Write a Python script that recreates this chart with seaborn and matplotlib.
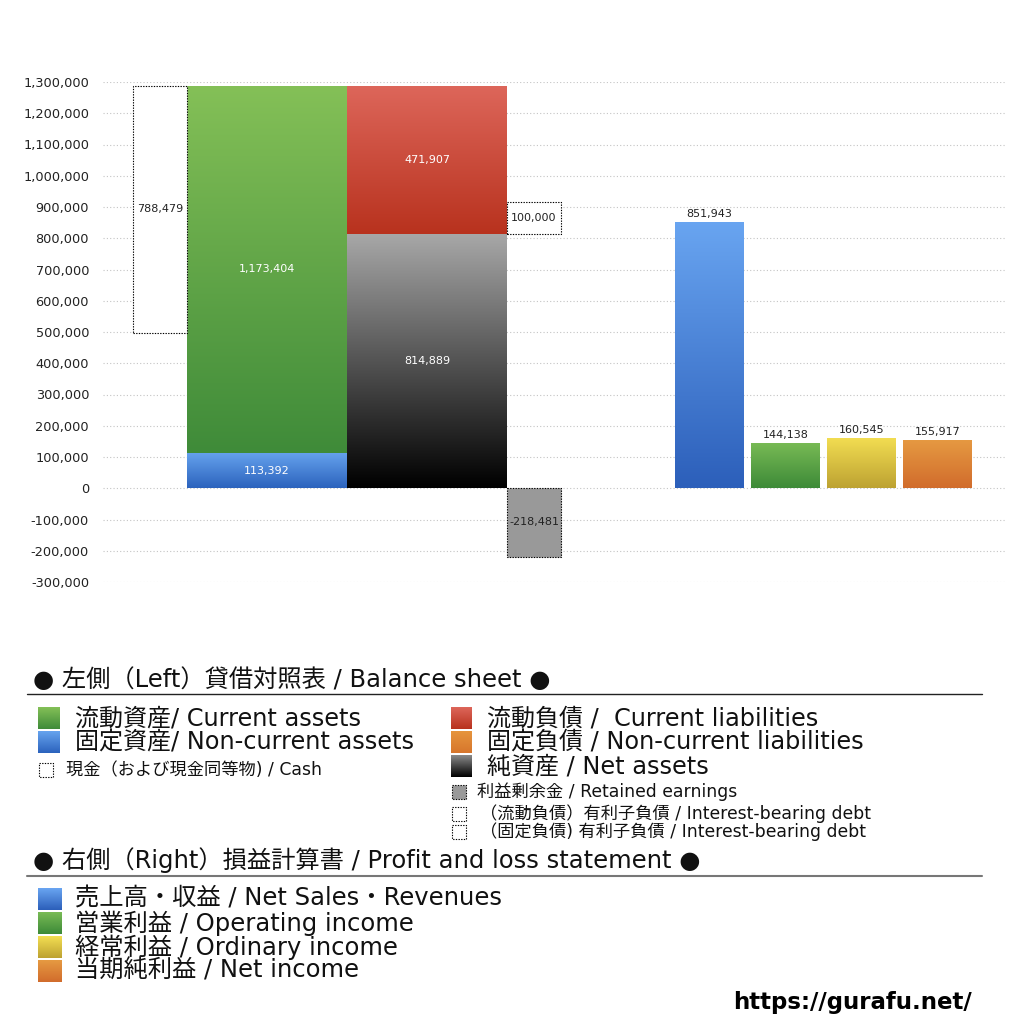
import numpy as np
import pandas as pd
import seaborn as sns
import matplotlib
matplotlib.use("Agg")
import matplotlib.pyplot as plt
from matplotlib.colors import LinearSegmentedColormap
from matplotlib.patches import Rectangle
from matplotlib.ticker import FuncFormatter, MultipleLocator

# balance sheet (left)
current_assets = 1173404
noncurrent_assets = 113392
cash = 788479
current_liabilities = 471907
net_assets = 814889
retained_earnings = -218481
interest_debt_current = 100000

# profit and loss (right)
pl_items = ["売上高・収益", "営業利益", "経常利益", "当期純利益"]
pl_values = [851943, 144138, 160545, 155917]

# gradient colours (top, bottom)
grad = {
    "current_assets": ("#84c057", "#3f8b39"),
    "noncurrent_assets": ("#66a3ee", "#2c63bd"),
    "current_liabilities": ("#dd665a", "#b8321e"),
    "net_assets": ("#a8a8a8", "#000000"),
    "売上高・収益": ("#69a5f1", "#2c5fba"),
    "営業利益": ("#79bb55", "#3d8a38"),
    "経常利益": ("#f3de52", "#bda232"),
    "当期純利益": ("#e69a42", "#d16c2c"),
}

sns.set_style("white")
plt.rcParams["font.family"] = ["DejaVu Sans", "Noto Sans CJK JP"]

fig = plt.figure(figsize=(10.24, 10.24), dpi=100)
# axes: x 103..1006 px, y 82..582 px
ax = fig.add_axes([103 / 1024, 1 - 582 / 1024, 903 / 1024, 500 / 1024])


def gradient(ax, patch, colors, y0, y1, z):
    bb = patch.get_bbox()
    cmap = LinearSegmentedColormap.from_list("g", [colors[1], colors[0]])
    img = np.linspace(0, 1, 256).reshape(-1, 1)
    im = ax.imshow(img, cmap=cmap, origin="lower", aspect="auto",
                   extent=[bb.x0, bb.x1, y0, y1], zorder=z, interpolation="bicubic")
    im.set_clip_path(patch)
    patch.set_zorder(z - 0.1)


# layout in axes pixel units
pos_bs = [164, 324]
pos_cash, pos_side = 57, 431
pos_pl = [606.5, 682.5, 758.5, 834.5]

total_assets = current_assets + noncurrent_assets
total_right = current_liabilities + net_assets

# top layer of stacked columns
n0 = len(ax.patches)
top = pd.DataFrame({"pos": pos_bs, "value": [total_assets, total_right],
                    "item": ["current_assets", "current_liabilities"]})
sns.barplot(data=top, x="pos", y="value", hue="item", native_scale=True, width=1.0,
            errorbar=None, legend=False, ax=ax,
            palette={k: grad[k][0] for k in top["item"]}, linewidth=0)
top_patches = ax.patches[n0:]
n1 = len(ax.patches)
bot = pd.DataFrame({"pos": pos_bs, "value": [noncurrent_assets, net_assets],
                    "item": ["noncurrent_assets", "net_assets"]})
sns.barplot(data=bot, x="pos", y="value", hue="item", native_scale=True, width=1.0,
            errorbar=None, legend=False, ax=ax,
            palette={k: grad[k][0] for k in bot["item"]}, linewidth=0)
bot_patches = ax.patches[n1:]

gradient(ax, top_patches[0], grad["current_assets"], noncurrent_assets, total_assets, 2)
gradient(ax, top_patches[1], grad["current_liabilities"], net_assets, total_right, 2)
gradient(ax, bot_patches[0], grad["noncurrent_assets"], 0, noncurrent_assets, 3)
gradient(ax, bot_patches[1], grad["net_assets"], 0, net_assets, 3)

# P&L bars
n2 = len(ax.patches)
pl = pd.DataFrame({"pos": pos_pl, "value": pl_values, "item": pl_items})
sns.barplot(data=pl, x="pos", y="value", hue="item", native_scale=True, width=69 / 76,
            errorbar=None, legend=False, ax=ax,
            palette={k: grad[k][0] for k in pl_items}, linewidth=0)
for p, it, v in zip(ax.patches[n2:], pl_items, pl_values):
    gradient(ax, p, grad[it], 0, v, 2)
for x, v in zip(pos_pl, pl_values):
    ax.annotate(f"{v:,}", (x, v), xytext=(0, 2), textcoords="offset points",
                ha="center", va="bottom", fontsize=8, color="#222222")

# dotted boxes
dot = dict(linestyle=(0, (1.2, 1.2)), linewidth=0.8, edgecolor="black", zorder=4)
ax.bar(pos_cash, cash, width=54, bottom=total_assets - cash, facecolor="white", **dot)
ax.bar(pos_side, interest_debt_current, width=54, bottom=net_assets, facecolor="white", **dot)
ax.bar(pos_side, retained_earnings, width=54, facecolor="#999999", **dot)

lab = dict(ha="center", va="center", fontsize=8, zorder=6)
ax.text(pos_cash, total_assets - cash / 2, f"{cash:,}", color="#222222", **lab)
ax.text(pos_side, net_assets + interest_debt_current / 2, f"{interest_debt_current:,}", color="#222222", **lab)
ax.text(pos_side, retained_earnings / 2, f"{retained_earnings:,}", color="#222222", **lab)
ax.text(pos_bs[0], noncurrent_assets + current_assets / 2, f"{current_assets:,}", color="white", **lab)
ax.text(pos_bs[0], noncurrent_assets / 2, f"{noncurrent_assets:,}", color="white", **lab)
ax.text(pos_bs[1], net_assets + current_liabilities / 2, f"{current_liabilities:,}", color="white", **lab)
ax.text(pos_bs[1], net_assets / 2, f"{net_assets:,}", color="white", **lab)

ax.set_xlim(0, 903)
ax.set_ylim(-300000, 1300000)
ax.yaxis.set_major_locator(MultipleLocator(100000))
ax.yaxis.set_major_formatter(FuncFormatter(lambda v, _: f"{int(v):,}"))
ax.set_xticks([])
ax.set_xlabel("")
ax.set_ylabel("")
ax.tick_params(axis="y", length=0, pad=10, labelsize=9.3, labelcolor="#222222")
ax.yaxis.grid(True, linestyle=(0, (1, 2)), color="#c4c4c4", linewidth=0.8)
ax.set_axisbelow(True)
sns.despine(ax=ax, left=True, bottom=True)

# legend area in figure pixels
lg = fig.add_axes([0, 0, 1, 1], zorder=-1)
lg.set_xlim(0, 1024)
lg.set_ylim(1024, 0)
lg.axis("off")


def square(x, y, w, h, colors=None, dotted=False, face="white"):
    if colors is not None:
        cmap = LinearSegmentedColormap.from_list("g", [colors[1], colors[0]])
        img = np.linspace(0, 1, 64).reshape(-1, 1)
        lg.imshow(img, cmap=cmap, origin="lower", aspect="auto", extent=[x, x + w, y + h, y])
    else:
        lg.add_patch(Rectangle((x, y), w, h, facecolor=face, edgecolor="black",
                               linestyle=(0, (1.2, 1.2)), linewidth=0.8))


txt = dict(va="center", ha="left", color="#111111")
big, small = 17.3, 12.4
lg.text(33, 680, "● 左側（Left）貸借対照表 / Balance sheet ●", fontsize=17.5, **txt)
lg.plot([27, 982], [694, 694], color="#222222", lw=1)

square(38, 707, 22, 22, grad["current_assets"])
lg.text(75, 718, "流動資産/ Current assets", fontsize=big, **txt)
square(38, 731, 22, 22, grad["noncurrent_assets"])
lg.text(75, 742, "固定資産/ Non-current assets", fontsize=big, **txt)
square(39, 763, 14, 14, dotted=True)
lg.text(66, 770, "現金（および現金同等物) / Cash", fontsize=small, **txt)

square(451, 707, 21, 22, grad["current_liabilities"])
lg.text(487, 718, "流動負債 /  Current liabilities", fontsize=big, **txt)
square(451, 731, 21, 22, ("#e6953d", "#d7762c"))
lg.text(487, 742, "固定負債 / Non-current liabilities", fontsize=big, **txt)
square(451, 755, 21, 22, ("#8a8a8a", "#000000"))
lg.text(487, 766, "純資産 / Net assets", fontsize=big, **txt)
square(452, 785, 14, 14, dotted=True, face="#999999")
lg.text(477, 792, "利益剰余金 / Retained earnings", fontsize=small, **txt)
square(452, 807, 14, 14, dotted=True)
lg.text(480, 814, "（流動負債）有利子負債 / Interest-bearing debt", fontsize=small, **txt)
square(452, 825, 14, 14, dotted=True)
lg.text(480, 832, "（固定負債) 有利子負債 / Interest-bearing debt", fontsize=small, **txt)

lg.text(33, 860, "● 右側（Right）損益計算書 / Profit and loss statement ●", fontsize=17.5, **txt)
lg.plot([27, 982], [876, 876], color="#777777", lw=1.5)

for i, (it, name) in enumerate(zip(pl_items, ["売上高・収益 / Net Sales・Revenues",
                                               "営業利益 / Operating income",
                                               "経常利益 / Ordinary income",
                                               "当期純利益 / Net income"])):
    y = 899 + 24 * i
    square(38, y - 11, 24, 22, grad[it])
    lg.text(75, y, name, fontsize=17.5, **txt)

lg.text(972, 1003, "https://gurafu.net/", fontsize=16.5, fontweight="bold",
        ha="right", va="center", color="black")

fig.savefig("out.png", dpi=100, facecolor="white")
